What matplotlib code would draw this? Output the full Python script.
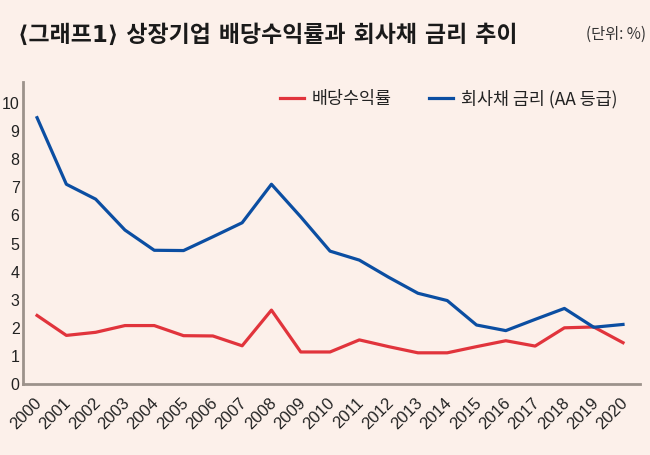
import matplotlib
matplotlib.use("Agg")
import matplotlib.pyplot as plt
from matplotlib.transforms import ScaledTranslation

years = list(range(2000, 2021))
dividend_yield = [2.44, 1.73, 1.84, 2.08, 2.08, 1.72, 1.71, 1.36, 2.63, 1.14, 1.14,
                  1.57, 1.33, 1.11, 1.11, 1.33, 1.54, 1.35, 2.00, 2.03, 1.47]
corp_bond_rate = [9.48, 7.11, 6.58, 5.48, 4.76, 4.75, 5.24, 5.74, 7.11, 5.95, 4.73,
                  4.41, 3.80, 3.23, 2.97, 2.10, 1.90, 2.30, 2.69, 2.02, 2.12]
y_ticks = list(range(0, 11))

BG = "#FCF0EA"
RED = "#E1343C"
BLUE = "#0B4EA2"
SPINE = "#9C928B"
NUMFONT = ['Liberation Sans', 'DejaVu Sans']

plt.rcParams['font.family'] = ['Noto Sans CJK KR', 'DejaVu Sans']

fig = plt.figure(figsize=(6.5, 4.55), dpi=100, facecolor=BG)
ax = fig.add_axes([23/650, 71/455, (640-23)/650, (384-82)/455])
ax.set_facecolor(BG)

ax.plot(years, dividend_yield, color=RED, lw=2.3, label="배당수익률")
ax.plot(years, corp_bond_rate, color=BLUE, lw=2.3, label="회사채 금리 (AA 등급)")

ax.set_xlim(1999.52, 2020.58)
ax.set_ylim(0, 10.75)
ax.set_yticks(y_ticks)
ax.set_xticks(years)
ax.set_yticklabels([str(v) for v in y_ticks], family=NUMFONT, fontsize=11.5, color="#222222")
ax.set_xticklabels([str(y) for y in years], family=NUMFONT, fontsize=12,
                   rotation=45, ha='right', rotation_mode='anchor', color="#222222")
ax.tick_params(axis='both', length=0)
ax.tick_params(axis='y', pad=2.5)
ax.tick_params(axis='x', pad=8)
for lab in ax.get_xticklabels():
    lab.set_transform(lab.get_transform() + ScaledTranslation(-3/100, 0, fig.dpi_scale_trans))

for s in ['top', 'right']:
    ax.spines[s].set_visible(False)
for s in ['left', 'bottom']:
    ax.spines[s].set_color(SPINE)
    ax.spines[s].set_linewidth(2)

leg = ax.legend(loc='upper right', bbox_to_anchor=(0.963, 0.975), ncol=2, frameon=False,
                fontsize=12.5, handlelength=1.4, handletextpad=0.45, columnspacing=2.1,
                borderpad=0, borderaxespad=0)
for t in leg.get_texts():
    t.set_color("#222222")

fig.text(18/650, 1 - 35/455, "⟨그래프1⟩ 상장기업 배당수익률과 회사채 금리 추이",
         family=['DejaVu Sans', 'Noto Sans CJK KR'],
         fontsize=16.5, fontweight='bold', va='center', ha='left', color="#1a1a1a")
fig.text(646/650, 1 - 34/455, "(단위: %)", fontsize=11, va='center', ha='right', color="#333333")

fig.savefig("out.png", dpi=100, facecolor=BG)
